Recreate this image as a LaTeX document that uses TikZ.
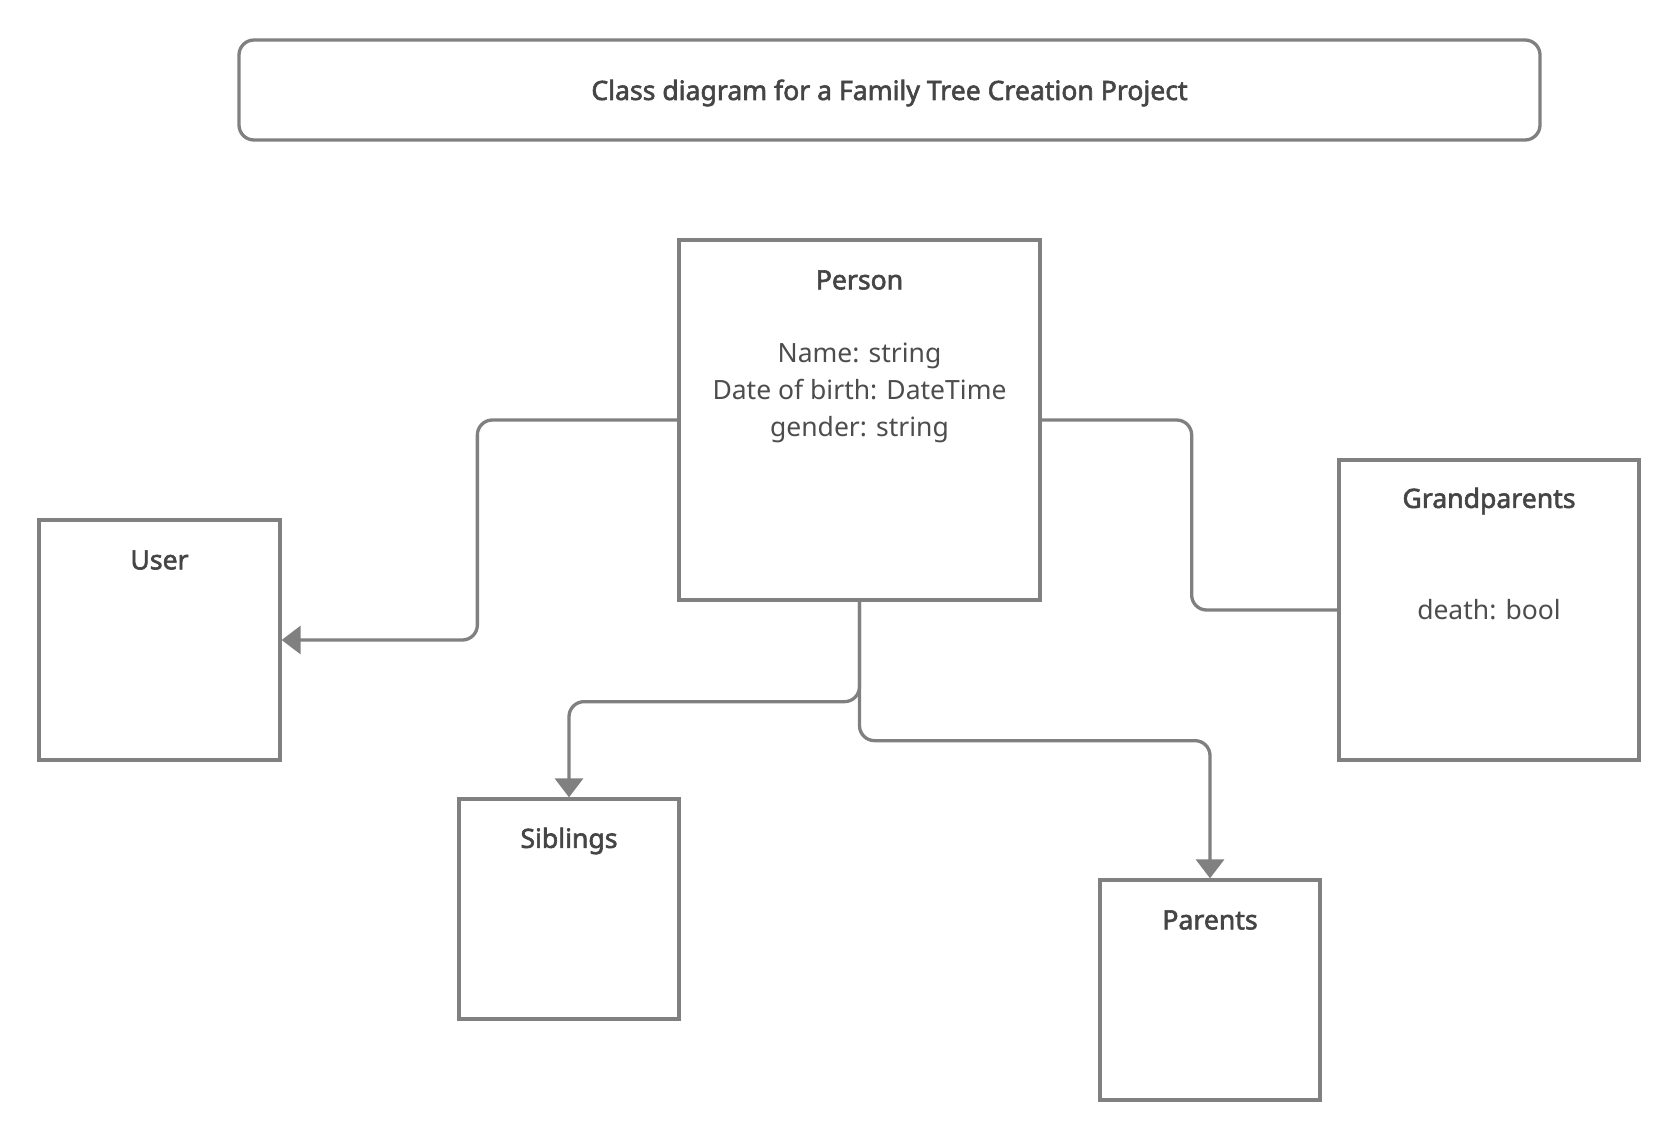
\documentclass[tikz,border=0pt]{standalone}
\usepackage{fontspec}
\setmainfont{Noto Sans}[AutoFakeBold=2.2]
\usetikzlibrary{arrows.meta}
\definecolor{ln}{HTML}{808080}
\definecolor{tx}{HTML}{4D4D4D}
\definecolor{tb}{HTML}{454545}
\begin{document}
\begin{tikzpicture}[x=1pt,y=-1pt,
  box/.style={draw=ln, line width=3.3pt, fill=white, inner sep=0pt},
  conn/.style={draw=ln, line width=3.3pt, rounded corners=15pt},
  arr/.style={-{Triangle[length=19pt,width=28pt]}},
  ttl/.style={text=tb, font=\fontsize{26.6}{32}\selectfont\bfseries, inner sep=0pt},
  txt/.style={text=tx, font=\fontsize{26.5}{37}\selectfont, inner sep=0pt, align=center}]
\useasboundingbox (0,0) rectangle (1680,1140);
\node[box, rounded corners=15pt, minimum width=1301pt, minimum height=100pt] (title) at (889.5,90) {};
\node[box, minimum width=361pt, minimum height=360pt] (person) at (859.5,420) {};
\node[box, minimum width=241pt, minimum height=240pt] (user) at (159.5,640) {};
\node[box, minimum width=300pt, minimum height=300pt] (grand) at (1489,610) {};
\node[box, minimum width=220pt, minimum height=220pt] (sib) at (569,909) {};
\node[box, minimum width=220pt, minimum height=220pt] (par) at (1210,990) {};

\draw[conn, arr] (person.west) -- ++(-200,0) |- (user.east);
\draw[conn] (person.east) -- ++(150,0) |- (grand.west);
\draw[conn, arr] (person.south) -- ++(0,100) -| (sib.north);
\draw[conn, arr] (person.south) -- ++(0,139) -| (par.north);

\node[ttl] (titleT) at (889.5,93) {Class diagram for a Family Tree Creation Project};
\node[ttl] (personT) at (859.5,280) {Person};
\node[txt] (personA) at (859.5,393) {Name: string\\Date of birth: DateTime\\gender: string};
\node[ttl] (userT) at (159.5,560) {User};
\node[ttl] (grandT) at (1489,501) {Grandparents};
\node[txt] (grandA) at (1489,610) {death: bool};
\node[ttl] (sibT) at (569,841) {Siblings};
\node[ttl] (parT) at (1210,920) {Parents};
\end{tikzpicture}
\end{document}
